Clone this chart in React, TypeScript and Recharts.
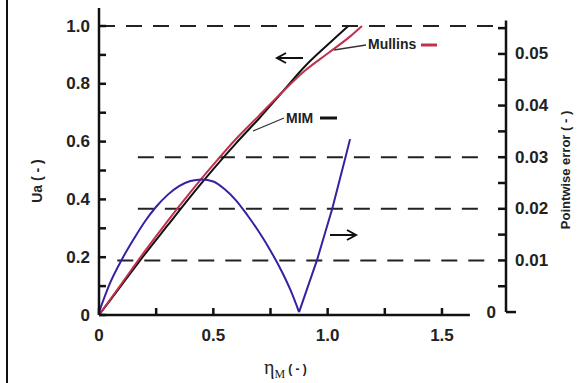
import { ComposedChart, Line, XAxis, YAxis, ReferenceLine, Customized } from 'recharts';

// MIM and Mullins curves, Ua (-) against eta_M (-)
const mimEta = [0, 0.1, 0.2, 0.3, 0.4, 0.5, 0.6, 0.7, 0.8, 0.9, 1.0, 1.09];
const mimUa = [0, 0.105, 0.21, 0.31, 0.41, 0.505, 0.595, 0.68, 0.77, 0.86, 0.935, 1.0];

const mullinsEta = [0, 0.1, 0.2, 0.3, 0.4, 0.5, 0.6, 0.7, 0.8, 0.9, 1.0, 1.1, 1.15];
const mullinsUa = [0, 0.11, 0.22, 0.325, 0.425, 0.52, 0.61, 0.69, 0.77, 0.845, 0.905, 0.965, 1.0];

// pointwise error (right axis), split at the cusp
const errHumpEta = [0, 0.05, 0.1, 0.15, 0.2, 0.25, 0.3, 0.35, 0.4, 0.45, 0.5, 0.55, 0.6, 0.65, 0.7, 0.75, 0.8, 0.84, 0.875];
const errHump = [0, 0.0058, 0.0102, 0.014, 0.0175, 0.0204, 0.0227, 0.0244, 0.0254, 0.0257, 0.0253, 0.0238, 0.0216, 0.0187, 0.0155, 0.0119, 0.0078, 0.004, 0];
const errRiseEta = [0.875, 0.953, 1.02, 1.078, 1.098];
const errRise = [0, 0.01, 0.02, 0.03, 0.0335];

// dashed guide lines
const guideRight = [0.01, 0.02, 0.03];
const guideRightStart = [0.08, 0.17, 0.17];
const guideTopUa = 1.0;

const xTicks = [0, 0.25, 0.5, 0.75, 1, 1.25, 1.5];
const xTickLabels = ['0', '', '0.5', '', '1.0', '', '1.5'];
const leftTicks = [0, 0.1, 0.2, 0.3, 0.4, 0.5, 0.6, 0.7, 0.8, 0.9, 1.0];
const leftTickLabels = ['0', '', '0.2', '', '0.4', '', '0.6', '', '0.8', '', '1.0'];
const rightTicks = [0, 0.005, 0.01, 0.015, 0.02, 0.025, 0.03, 0.035, 0.04, 0.045, 0.05, 0.055];
const rightTickLabels = ['0', '', '0.01', '', '0.02', '', '0.03', '', '0.04', '', '0.05', ''];

const X_MAX = 1.78;
const X_AXIS_END = 1.622;
const RIGHT_AXIS_TOP = 0.0565;

const toPoints = (xs: number[], ys: number[]) => xs.map((x, i) => ({ x, y: ys[i] }));

const FONT = '"Liberation Sans", Arial, sans-serif';
const SERIF = '"Liberation Serif", "Times New Roman", serif';
const INK = '#111';
const RED = '#c2304f';
const PURPLE = '#3b1fa0';

const findLabel = (ticks: number[], labels: string[], v: number) => {
  const i = ticks.findIndex((t) => Math.abs(t - v) < 1e-9);
  return i >= 0 ? labels[i] : '';
};

const LeftTick = (props: any) => {
  const { x, y, payload } = props;
  const label = findLabel(leftTicks, leftTickLabels, payload.value);
  return (
    <g>
      <line x1={x} x2={x + 7} y1={y} y2={y} stroke={INK} strokeWidth={2.5} />
      {label && (
        <text x={x - 9} y={y} textAnchor="end" dominantBaseline="central" fontFamily={FONT} fontWeight="bold" fontSize={17} fill="#222">
          {label}
        </text>
      )}
    </g>
  );
};

const RightTick = (props: any) => {
  const { x, y, payload } = props;
  const label = findLabel(rightTicks, rightTickLabels, payload.value);
  if (payload.value === 0) {
    return (
      <g>
        <line x1={x} x2={x + 10} y1={y} y2={y} stroke={INK} strokeWidth={2.5} />
        <text x={x - 10} y={y} textAnchor="end" dominantBaseline="central" fontFamily={FONT} fontWeight="bold" fontSize={17} fill="#222">
          {label}
        </text>
      </g>
    );
  }
  return (
    <g>
      <line x1={x - 8} x2={x} y1={y} y2={y} stroke={INK} strokeWidth={2.5} />
      {label && (
        <text x={x + 9} y={y} textAnchor="start" dominantBaseline="central" fontFamily={FONT} fontWeight="bold" fontSize={17} fill="#222">
          {label}
        </text>
      )}
    </g>
  );
};

const BottomTick = (props: any) => {
  const { x, y, payload } = props;
  const label = findLabel(xTicks, xTickLabels, payload.value);
  return (
    <g>
      <line x1={x} x2={x} y1={y} y2={y - 7} stroke={INK} strokeWidth={2.5} />
      {label && (
        <text x={x} y={y + 20} textAnchor="middle" dominantBaseline="central" fontFamily={FONT} fontWeight="bold" fontSize={17} fill="#222">
          {label}
        </text>
      )}
    </g>
  );
};

// labels, leader lines and arrows
const Annotations = () => (
  <g>
    <line x1={7} x2={7} y1={0} y2={383} stroke={INK} strokeWidth={2} />
    <text transform="translate(42,181) rotate(-90)" textAnchor="middle" fontFamily={FONT} fontWeight="bold" fontSize={14} fill="#222">
      Ua ( - )
    </text>
    <text transform="translate(570,170) rotate(-90)" textAnchor="middle" fontFamily={FONT} fontWeight="bold" fontSize={13} fill="#222">
      Pointwise error  ( - )
    </text>
    <text x={264} y={374} fill="#222">
      <tspan fontFamily={SERIF} fontSize={20}>η</tspan>
      <tspan fontFamily={SERIF} fontSize={12} dy={4}>M</tspan>
      <tspan fontFamily={FONT} fontWeight="bold" fontSize={12} dy={-5} dx={3}>( - )</tspan>
    </text>

    <line x1={334} y1={50} x2={366} y2={45} stroke="#333" strokeWidth={1.3} />
    <text x={368} y={49} fontFamily={FONT} fontWeight="bold" fontSize={14} fill="#222">Mullins</text>
    <line x1={421} x2={437} y1={45} y2={45} stroke={RED} strokeWidth={3} />

    <line x1={253} y1={131} x2={284} y2={118} stroke="#333" strokeWidth={1.3} />
    <text x={286} y={123} fontFamily={FONT} fontWeight="bold" fontSize={14} fill="#222">MIM</text>
    <line x1={320} x2={337} y1={118} y2={118} stroke={INK} strokeWidth={3} />

    <line x1={278} x2={303} y1={58} y2={58} stroke={INK} strokeWidth={2} />
    <path d="M286,53 L277,58 L286,63" fill="none" stroke={INK} strokeWidth={2} />
    <line x1={330} x2={355} y1={235} y2={235} stroke={INK} strokeWidth={2} />
    <path d="M347,230 L356,235 L347,240" fill="none" stroke={INK} strokeWidth={2} />
  </g>
);

export default function App() {
  return (
    <div style={{ position: 'absolute', left: 0, top: 0, width: 581, height: 383, background: '#fff' }}>
      <ComposedChart width={581} height={383} margin={{ top: 8, right: 15, bottom: 0, left: 39 }}>
        <XAxis
          xAxisId={0}
          type="number"
          dataKey="x"
          domain={[0, X_MAX]}
          ticks={xTicks}
          interval={0}
          allowDataOverflow
          axisLine={false}
          tickLine={false}
          tickSize={0}
          tickMargin={0}
          height={68}
          tick={BottomTick}
        />
        <YAxis
          yAxisId="left"
          type="number"
          domain={[0, 1.0623]}
          ticks={leftTicks}
          interval={0}
          allowDataOverflow
          axisLine={{ stroke: INK, strokeWidth: 2.5 }}
          tickLine={false}
          tickSize={0}
          tickMargin={0}
          width={60}
          tick={LeftTick}
        />
        <YAxis
          yAxisId="right"
          orientation="right"
          type="number"
          domain={[-0.00057, 0.0589]}
          ticks={rightTicks}
          interval={0}
          allowDataOverflow
          axisLine={false}
          tickLine={false}
          tickSize={0}
          tickMargin={0}
          width={60}
          tick={RightTick}
        />

        <ReferenceLine
          yAxisId="left"
          segment={[{ x: 0, y: guideTopUa }, { x: 1.75, y: guideTopUa }]}
          stroke="#222"
          strokeWidth={2}
          strokeDasharray="16 11"
        />
        {guideRight.map((v, i) => (
          <ReferenceLine
            key={v}
            yAxisId="right"
            segment={[{ x: guideRightStart[i], y: v }, { x: 1.7, y: v }]}
            stroke="#222"
            strokeWidth={2}
            strokeDasharray="16 11"
          />
        ))}

        <Line yAxisId="left" data={toPoints(mimEta, mimUa)} dataKey="y" type="monotone" stroke={INK} strokeWidth={2} dot={false} isAnimationActive={false} />
        <Line yAxisId="left" data={toPoints(mullinsEta, mullinsUa)} dataKey="y" type="monotone" stroke={RED} strokeWidth={2} dot={false} isAnimationActive={false} />
        <Line yAxisId="right" data={toPoints(errHumpEta, errHump)} dataKey="y" type="monotone" stroke={PURPLE} strokeWidth={2} dot={false} isAnimationActive={false} />
        <Line yAxisId="right" data={toPoints(errRiseEta, errRise)} dataKey="y" type="linear" stroke={PURPLE} strokeWidth={2} dot={false} isAnimationActive={false} />

        <ReferenceLine
          yAxisId="left"
          segment={[{ x: 0, y: 0 }, { x: X_AXIS_END, y: 0 }]}
          stroke={INK}
          strokeWidth={2.5}
        />
        <ReferenceLine
          yAxisId="right"
          segment={[{ x: X_MAX, y: 0 }, { x: X_MAX, y: RIGHT_AXIS_TOP }]}
          stroke={INK}
          strokeWidth={2.5}
        />

        <Customized component={Annotations} />
      </ComposedChart>
    </div>
  );
}
